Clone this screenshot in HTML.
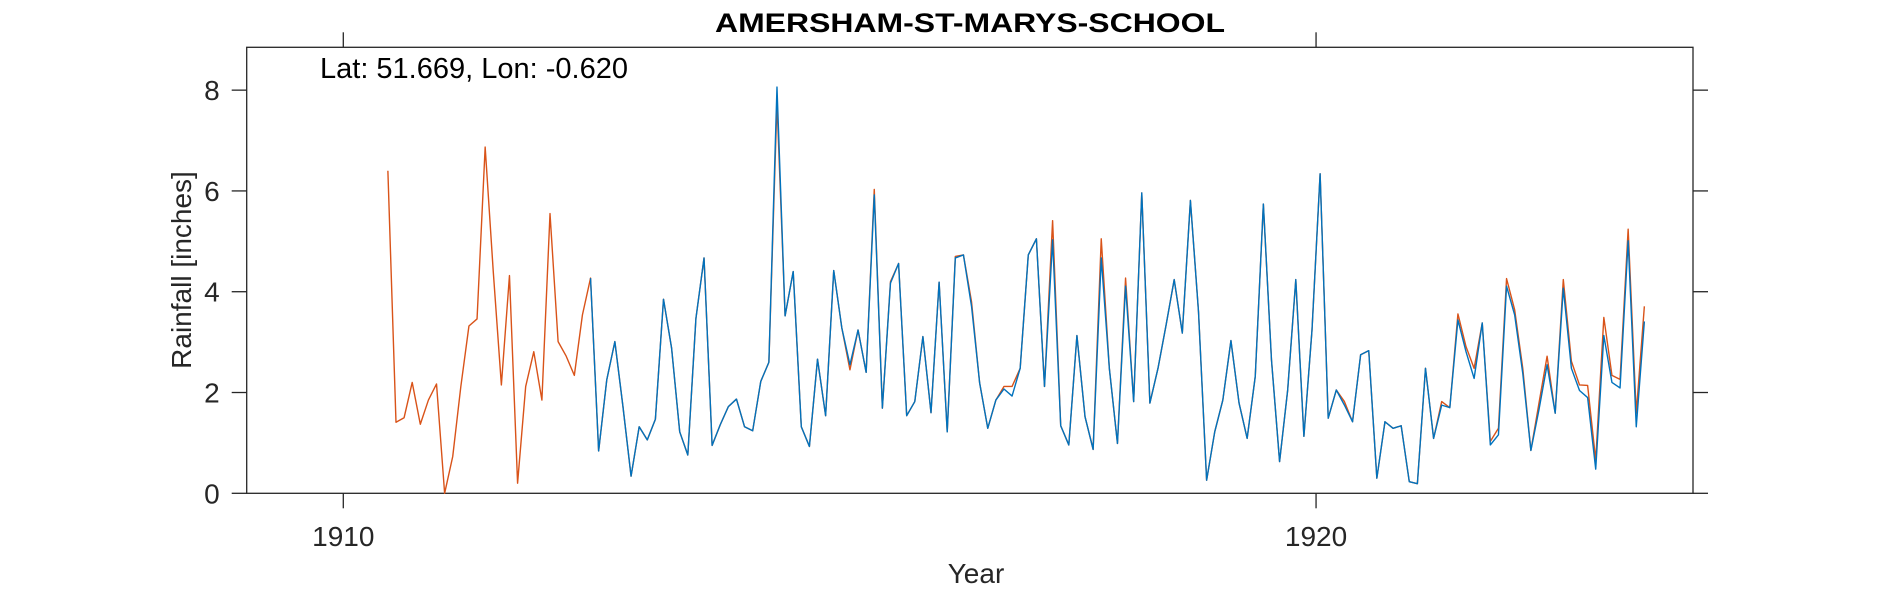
<!DOCTYPE html>
<html><head><meta charset="utf-8"><style>
html,body{margin:0;padding:0;background:#fff;}
svg{display:block;font-family:"Liberation Sans",Arial,sans-serif;}
</style></head><body>
<svg id="chart" width="1890" height="591" viewBox="0 0 1890 591" xmlns="http://www.w3.org/2000/svg">
<rect x="0" y="0" width="1890" height="591" fill="#fff"/>
<text x="970" y="32" text-anchor="middle" font-size="27" font-weight="bold" fill="#000" textLength="510" lengthAdjust="spacingAndGlyphs">AMERSHAM-ST-MARYS-SCHOOL</text>
<g id="axes"></g>
<g id="series"></g>
<text x="320" y="78" font-size="29" fill="#000">Lat: 51.669, Lon: -0.620</text>
<text x="976" y="583" text-anchor="middle" font-size="28" fill="#262626">Year</text>
<text transform="translate(191,270) rotate(-90)" text-anchor="middle" font-size="28" fill="#262626">Rainfall [inches]</text>
</svg>
<script>
const startYear = 1910;
const startMonth = 5; // June
const orangeValues = [6.40,1.41,1.50,2.20,1.37,1.85,2.17,0.00,0.73,2.12,3.32,3.46,6.87,4.40,2.15,4.32,0.20,2.12,2.81,1.85,5.55,3.01,2.72,2.34,3.54,4.27,0.84,2.25,3.01,1.72,0.34,1.32,1.06,1.47,3.85,2.88,1.22,0.76,3.47,4.67,0.95,1.36,1.72,1.87,1.32,1.24,2.22,2.60,7.75,3.52,4.40,1.32,0.93,2.66,1.54,4.42,3.28,2.45,3.24,2.40,6.03,1.69,4.20,4.56,1.54,1.82,3.11,1.60,4.19,1.22,4.70,4.73,3.80,2.19,1.29,1.85,2.12,2.12,2.48,4.73,5.05,2.12,5.41,1.34,0.96,3.13,1.52,0.87,5.05,2.48,0.99,4.27,1.82,5.96,1.79,2.48,3.34,4.24,3.18,5.81,3.60,0.26,1.22,1.85,3.03,1.79,1.09,2.32,5.74,2.65,0.63,2.05,4.24,1.13,3.24,6.34,1.49,2.05,1.82,1.42,2.75,2.83,0.30,1.42,1.29,1.34,0.23,0.19,2.48,1.09,1.82,1.70,3.56,2.91,2.48,3.38,1.03,1.29,4.26,3.64,2.48,0.85,1.79,2.72,1.59,4.24,2.62,2.15,2.14,0.66,3.49,2.34,2.26,5.24,1.59,3.71];
const blueValues = [null,null,null,null,null,null,null,null,null,null,null,null,null,null,null,null,null,null,null,null,null,null,null,null,null,4.27,0.84,2.25,3.01,1.72,0.34,1.32,1.06,1.47,3.85,2.88,1.22,0.76,3.47,4.67,0.95,1.36,1.72,1.87,1.32,1.24,2.22,2.60,8.06,3.52,4.40,1.32,0.93,2.66,1.54,4.42,3.28,2.55,3.24,2.40,5.92,1.69,4.17,4.56,1.54,1.82,3.11,1.60,4.19,1.22,4.67,4.73,3.71,2.19,1.29,1.85,2.07,1.93,2.48,4.73,5.05,2.12,5.03,1.34,0.96,3.13,1.52,0.87,4.67,2.48,0.99,4.11,1.82,5.96,1.79,2.48,3.34,4.24,3.18,5.81,3.60,0.26,1.22,1.85,3.03,1.79,1.09,2.32,5.74,2.65,0.63,2.05,4.24,1.13,3.24,6.34,1.49,2.05,1.75,1.42,2.75,2.83,0.30,1.42,1.29,1.34,0.23,0.19,2.48,1.09,1.75,1.70,3.44,2.81,2.28,3.38,0.96,1.16,4.11,3.54,2.38,0.85,1.66,2.55,1.59,4.07,2.48,2.04,1.90,0.48,3.13,2.20,2.09,5.01,1.32,3.41];
const yTicks = [0,2,4,6,8];
const xTicks = [1910,1920];

const L=246.7, R=1693, T=47.3, B=493.3;
const xMin=1909.007, xMax=1923.875, yMin=0, yMax=8.85;
function xs(t){return L+(t-xMin)/(xMax-xMin)*(R-L);}
function ys(v){return B-(v-yMin)/(yMax-yMin)*(B-T);}
const NS="http://www.w3.org/2000/svg";
const axes=document.getElementById('axes');
const series=document.getElementById('series');
function mk(tag,attrs,parent){const e=document.createElementNS(NS,tag);for(const k in attrs)e.setAttribute(k,attrs[k]);parent.appendChild(e);return e;}

const box=mk('rect',{x:L,y:T,width:R-L,height:B-T,fill:'none',stroke:'#262626','stroke-width':1.3},axes);



yTicks.forEach(v=>{
  const y=ys(v);
  const t1=mk('line',{x1:L-15,x2:L,y1:y,y2:y,stroke:'#262626','stroke-width':1.3},axes);
  
  
  const t2=mk('line',{x1:R,x2:R+15,y1:y,y2:y,stroke:'#262626','stroke-width':1.3},axes);
  
  
  const lb=mk('text',{x:L-27,y:y+10,'text-anchor':'end','font-size':28,fill:'#262626'},axes);
  lb.textContent=String(v);
  
  
});
xTicks.forEach(v=>{
  const x=xs(v);
  const t1=mk('line',{x1:x,x2:x,y1:B,y2:B+15,stroke:'#262626','stroke-width':1.3},axes);
  
  
  const t2=mk('line',{x1:x,x2:x,y1:T-15,y2:T,stroke:'#262626','stroke-width':1.3},axes);
  
  
  const lb=mk('text',{x:x,y:546,'text-anchor':'middle','font-size':28,fill:'#262626'},axes);
  lb.textContent=String(v);
  
  
});

function timeOf(i){const m=startMonth+i;return startYear+Math.floor(m/12)+((m%12)+0.5)/12;}
function pathFor(vals){
  let d='',pen=false;
  vals.forEach((v,i)=>{
    if(v===null||v===undefined){pen=false;return;}
    d+=(pen?'L':'M')+xs(timeOf(i)).toFixed(2)+','+ys(v).toFixed(2);
    pen=true;
  });
  return d;
}
const po=mk('path',{d:pathFor(orangeValues),fill:'none',stroke:'#D95319','stroke-width':1.4,'stroke-linejoin':'round'},series);


const pb=mk('path',{d:pathFor(blueValues),fill:'none',stroke:'#0072BD','stroke-width':1.4,'stroke-linejoin':'round'},series);


</script>
</body></html>
